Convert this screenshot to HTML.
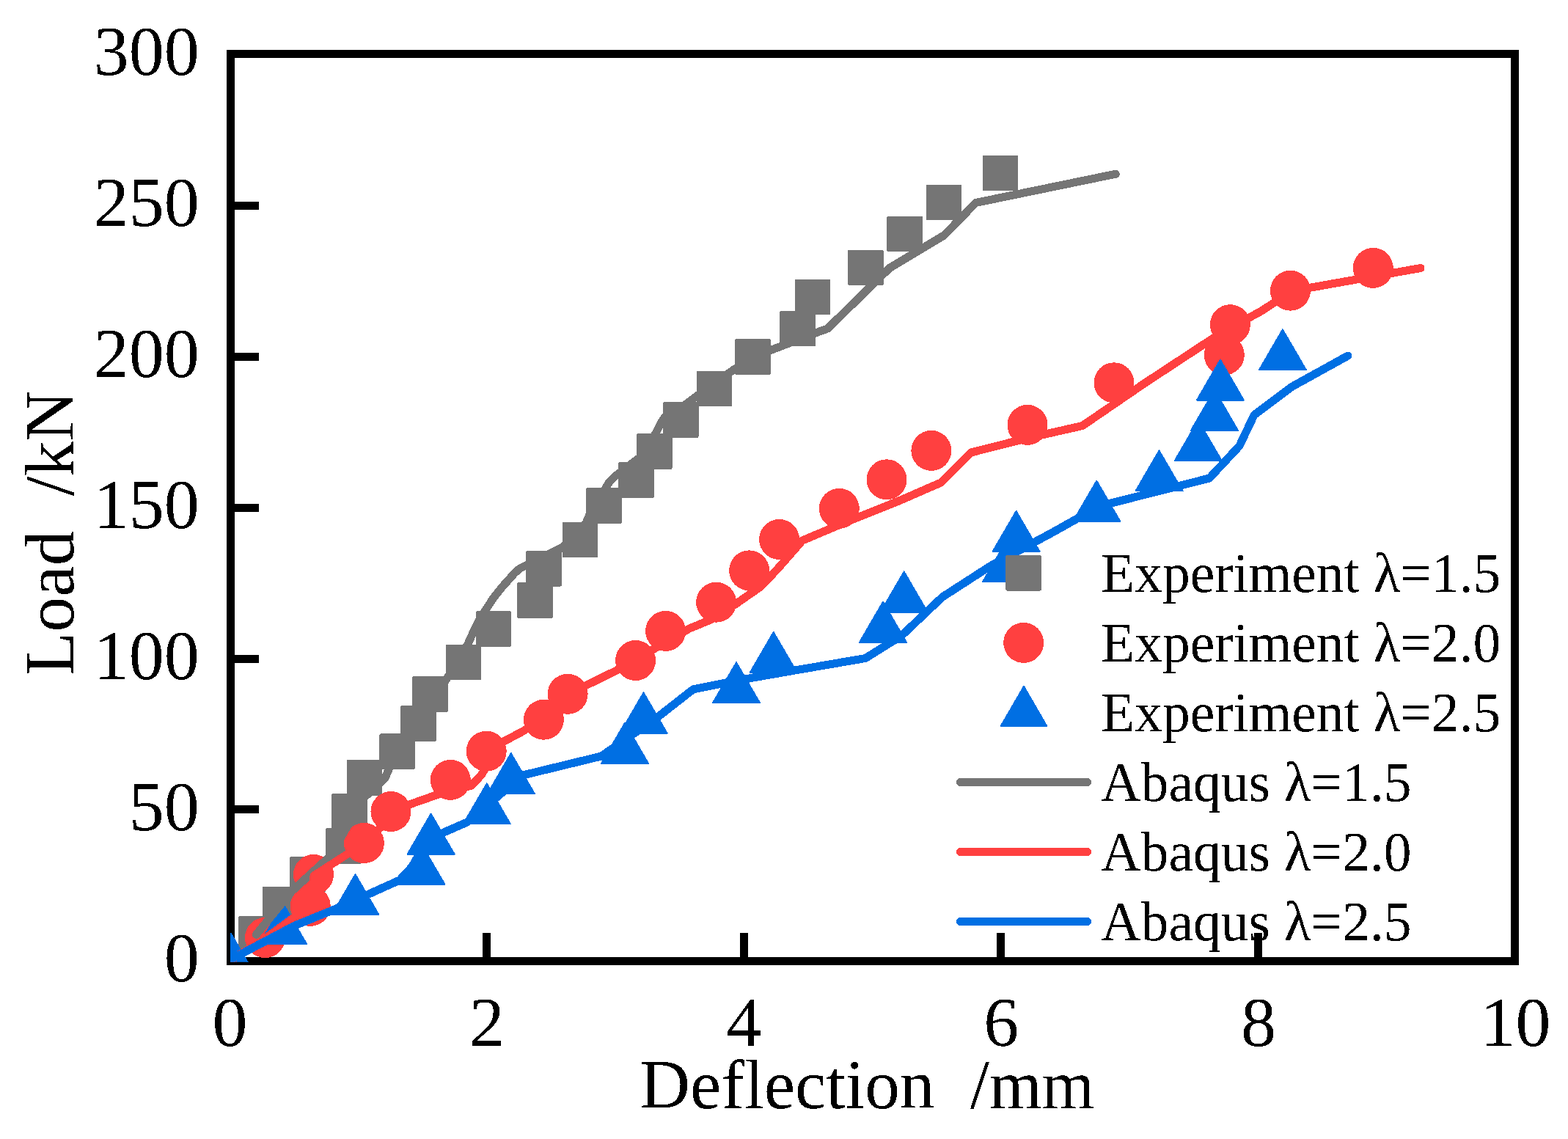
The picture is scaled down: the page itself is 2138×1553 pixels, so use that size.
<!DOCTYPE html><html><head><meta charset="utf-8"><title>Load-deflection curves</title><style>html,body{margin:0;padding:0;background:#fff;width:2138px;height:1553px;overflow:hidden}svg{display:block}text{font-family:"Liberation Serif","Times New Roman",serif;fill:#000}</style></head><body>
<svg width="2138" height="1553" viewBox="0 0 2138 1553" shape-rendering="crispEdges">
<rect width="2138" height="1553" fill="#fff"/>
<defs><clipPath id="pc"><rect x="314" y="73" width="1752" height="1238.7"/></clipPath><filter id="bin" filterUnits="userSpaceOnUse" x="0" y="0" width="2138" height="1553"><feComponentTransfer><feFuncA type="discrete" tableValues="0 1"/></feComponentTransfer></filter></defs>
<rect x="314.5" y="73.5" width="1751" height="1237" fill="none" stroke="#000" stroke-width="11"/>
<path d="M314.5 1103.9H353M314.5 898.1H353M314.5 692.2H353M314.5 486.3H353M314.5 280.5H353M663.5 1310.5V1272M1014.1 1310.5V1272M1364.8 1310.5V1272M1715.4 1310.5V1272" stroke="#000" stroke-width="11" fill="none"/>
<g filter="url(#bin)">
<text x="271.8" y="1337.5" font-size="96" text-anchor="end">0</text>
<text x="271.8" y="1131.6" font-size="96" text-anchor="end">50</text>
<text x="271.8" y="925.8" font-size="96" text-anchor="end">100</text>
<text x="271.8" y="719.9" font-size="96" text-anchor="end">150</text>
<text x="271.8" y="514.0" font-size="96" text-anchor="end">200</text>
<text x="271.8" y="308.2" font-size="96" text-anchor="end">250</text>
<text x="271.8" y="102.3" font-size="96" text-anchor="end">300</text>
<text x="313.4" y="1425.7" font-size="96" text-anchor="middle">0</text>
<text x="664.0" y="1425.7" font-size="96" text-anchor="middle">2</text>
<text x="1014.6" y="1425.7" font-size="96" text-anchor="middle">4</text>
<text x="1365.3" y="1425.7" font-size="96" text-anchor="middle">6</text>
<text x="1715.9" y="1425.7" font-size="96" text-anchor="middle">8</text>
<text x="2066.5" y="1425.7" font-size="96" text-anchor="middle">10</text>
<text x="872.3" y="1511" font-size="95.3">Deflection</text>
<text x="1323" y="1511" font-size="96" textLength="169.5" lengthAdjust="spacingAndGlyphs">/mm</text>
<text transform="translate(100.3 920.4) rotate(-90)" font-size="96">Load</text>
<text transform="translate(100.3 676.2) rotate(-90)" font-size="96">/kN</text>
</g>
<g clip-path="url(#pc)" shape-rendering="crispEdges">
<g><rect x="325.2" y="1249.4" width="48.4" height="48.4" rx="1.5" fill="#757575"/><rect x="358.2" y="1208.5" width="48.4" height="48.4" rx="1.5" fill="#757575"/><rect x="395.3" y="1168.3" width="48.4" height="48.4" rx="1.5" fill="#757575"/><rect x="444.1" y="1129.4" width="48.4" height="48.4" rx="1.5" fill="#757575"/><rect x="452.3" y="1082.3" width="48.4" height="48.4" rx="1.5" fill="#757575"/><rect x="472.5" y="1036.3" width="48.4" height="48.4" rx="1.5" fill="#757575"/><rect x="517.4" y="1000.4" width="48.4" height="48.4" rx="1.5" fill="#757575"/><rect x="546.3" y="962.3" width="48.4" height="48.4" rx="1.5" fill="#757575"/><rect x="562.4" y="922.3" width="48.4" height="48.4" rx="1.5" fill="#757575"/><rect x="607.6" y="878.5" width="48.4" height="48.4" rx="1.5" fill="#757575"/><rect x="648.7" y="833.3" width="48.4" height="48.4" rx="1.5" fill="#757575"/><rect x="705.3" y="794.3" width="48.4" height="48.4" rx="1.5" fill="#757575"/><rect x="717.3" y="751.2" width="48.4" height="48.4" rx="1.5" fill="#757575"/><rect x="766.5" y="711.6" width="48.4" height="48.4" rx="1.5" fill="#757575"/><rect x="799.4" y="665.2" width="48.4" height="48.4" rx="1.5" fill="#757575"/><rect x="843.3" y="630.4" width="48.4" height="48.4" rx="1.5" fill="#757575"/><rect x="868.2" y="591.3" width="48.4" height="48.4" rx="1.5" fill="#757575"/><rect x="904.1" y="548.3" width="48.4" height="48.4" rx="1.5" fill="#757575"/><rect x="949.5" y="505.6" width="48.4" height="48.4" rx="1.5" fill="#757575"/><rect x="1002.4" y="462.3" width="48.4" height="48.4" rx="1.5" fill="#757575"/><rect x="1063.4" y="423.8" width="48.4" height="48.4" rx="1.5" fill="#757575"/><rect x="1083.8" y="380.8" width="48.4" height="48.4" rx="1.5" fill="#757575"/><rect x="1156.2" y="340.6" width="48.4" height="48.4" rx="1.5" fill="#757575"/><rect x="1209.4" y="294.8" width="48.4" height="48.4" rx="1.5" fill="#757575"/><rect x="1262.8" y="251.6" width="48.4" height="48.4" rx="1.5" fill="#757575"/><rect x="1339.8" y="211.9" width="48.4" height="48.4" rx="1.5" fill="#757575"/></g>
<g><circle cx="361.5" cy="1278.5" r="27.5" fill="#FF4040"/><circle cx="423.2" cy="1235.4" r="27.5" fill="#FF4040"/><circle cx="427.5" cy="1192.4" r="27.5" fill="#FF4040"/><circle cx="496.4" cy="1149.5" r="27.5" fill="#FF4040"/><circle cx="533.0" cy="1106.5" r="27.5" fill="#FF4040"/><circle cx="614.3" cy="1063.4" r="27.5" fill="#FF4040"/><circle cx="663.2" cy="1024.2" r="27.5" fill="#FF4040"/><circle cx="741.4" cy="981.2" r="27.5" fill="#FF4040"/><circle cx="774.1" cy="946.3" r="27.5" fill="#FF4040"/><circle cx="866.6" cy="900.5" r="27.5" fill="#FF4040"/><circle cx="907.6" cy="860.4" r="27.5" fill="#FF4040"/><circle cx="976.6" cy="821.2" r="27.5" fill="#FF4040"/><circle cx="1021.6" cy="777.9" r="27.5" fill="#FF4040"/><circle cx="1062.6" cy="735.5" r="27.5" fill="#FF4040"/><circle cx="1144.3" cy="693.4" r="27.5" fill="#FF4040"/><circle cx="1209.0" cy="653.8" r="27.5" fill="#FF4040"/><circle cx="1269.9" cy="614.4" r="27.5" fill="#FF4040"/><circle cx="1401.0" cy="579.4" r="27.5" fill="#FF4040"/><circle cx="1519.0" cy="521.8" r="27.5" fill="#FF4040"/><circle cx="1669.3" cy="484.0" r="27.5" fill="#FF4040"/><circle cx="1677.4" cy="442.7" r="27.5" fill="#FF4040"/><circle cx="1759.5" cy="396.2" r="27.5" fill="#FF4040"/><circle cx="1872.3" cy="365.4" r="27.5" fill="#FF4040"/></g>
<g><polygon points="315.0,1273.0 347.0,1328.0 283.0,1328.0" fill="#006FE3" stroke="#006FE3" stroke-width="2" stroke-linejoin="round"/><polygon points="386.0,1232.0 418.0,1287.0 354.0,1287.0" fill="#006FE3" stroke="#006FE3" stroke-width="2" stroke-linejoin="round"/><polygon points="484.5,1192.2 516.5,1247.2 452.5,1247.2" fill="#006FE3" stroke="#006FE3" stroke-width="2" stroke-linejoin="round"/><polygon points="574.5,1150.9 606.5,1205.9 542.5,1205.9" fill="#006FE3" stroke="#006FE3" stroke-width="2" stroke-linejoin="round"/><polygon points="587.6,1109.6 619.6,1164.6 555.6,1164.6" fill="#006FE3" stroke="#006FE3" stroke-width="2" stroke-linejoin="round"/><polygon points="663.8,1068.3 695.8,1123.3 631.8,1123.3" fill="#006FE3" stroke="#006FE3" stroke-width="2" stroke-linejoin="round"/><polygon points="696.8,1027.1 728.8,1082.1 664.8,1082.1" fill="#006FE3" stroke="#006FE3" stroke-width="2" stroke-linejoin="round"/><polygon points="852.0,985.8 884.0,1040.8 820.0,1040.8" fill="#006FE3" stroke="#006FE3" stroke-width="2" stroke-linejoin="round"/><polygon points="877.5,944.5 909.5,999.5 845.5,999.5" fill="#006FE3" stroke="#006FE3" stroke-width="2" stroke-linejoin="round"/><polygon points="1004.0,903.3 1036.0,958.3 972.0,958.3" fill="#006FE3" stroke="#006FE3" stroke-width="2" stroke-linejoin="round"/><polygon points="1054.7,862.0 1086.7,917.0 1022.7,917.0" fill="#006FE3" stroke="#006FE3" stroke-width="2" stroke-linejoin="round"/><polygon points="1204.0,820.7 1236.0,875.7 1172.0,875.7" fill="#006FE3" stroke="#006FE3" stroke-width="2" stroke-linejoin="round"/><polygon points="1232.7,779.5 1264.7,834.5 1200.7,834.5" fill="#006FE3" stroke="#006FE3" stroke-width="2" stroke-linejoin="round"/><polygon points="1372.0,738.2 1404.0,793.2 1340.0,793.2" fill="#006FE3" stroke="#006FE3" stroke-width="2" stroke-linejoin="round"/><polygon points="1385.6,696.9 1417.6,751.9 1353.6,751.9" fill="#006FE3" stroke="#006FE3" stroke-width="2" stroke-linejoin="round"/><polygon points="1495.3,655.6 1527.3,710.6 1463.3,710.6" fill="#006FE3" stroke="#006FE3" stroke-width="2" stroke-linejoin="round"/><polygon points="1580.5,614.4 1612.5,669.4 1548.5,669.4" fill="#006FE3" stroke="#006FE3" stroke-width="2" stroke-linejoin="round"/><polygon points="1633.8,573.1 1665.8,628.1 1601.8,628.1" fill="#006FE3" stroke="#006FE3" stroke-width="2" stroke-linejoin="round"/><polygon points="1656.0,531.8 1688.0,586.8 1624.0,586.8" fill="#006FE3" stroke="#006FE3" stroke-width="2" stroke-linejoin="round"/><polygon points="1663.9,490.6 1695.9,545.6 1631.9,545.6" fill="#006FE3" stroke="#006FE3" stroke-width="2" stroke-linejoin="round"/><polygon points="1748.9,449.3 1780.9,504.3 1716.9,504.3" fill="#006FE3" stroke="#006FE3" stroke-width="2" stroke-linejoin="round"/></g>
<polyline points="349.3,1274.3 397.7,1215.3 450.0,1167.6 496.0,1088.0 525.0,1061.0 531.0,1047.0 630.0,893.0 638.0,878.0 643.0,867.0 652.0,848.0 662.0,832.0 673.0,815.0 685.0,800.0 694.0,790.0 702.0,781.0 709.0,775.0 720.0,769.5 748.0,755.6 768.0,745.8 799.0,713.0 804.0,701.5 824.4,668.0 831.0,657.0 838.0,650.0 846.0,644.0 859.0,634.0 872.0,624.0 894.0,591.0 901.0,577.0 907.0,568.0 933.0,553.0 953.0,538.0 990.0,511.5 1002.0,503.0 1051.0,477.5 1112.0,454.0 1128.5,448.0 1213.0,365.4 1287.5,320.7 1330.4,276.5 1521.3,237.2" fill="none" stroke="#757575" stroke-width="11" stroke-linejoin="round" stroke-linecap="round"/>
<polyline points="313.0,1310.0 357.0,1283.0 398.0,1253.0 425.0,1236.0 428.0,1194.0 476.0,1163.0 558.0,1097.0 595.0,1084.0 643.0,1071.0 656.0,1057.0 685.0,1012.0 715.0,996.0 796.0,936.0 841.0,914.0 940.0,857.0 969.0,845.0 1004.0,823.0 1037.0,800.0 1060.0,776.0 1094.0,737.0 1146.0,715.0 1228.0,682.0 1283.0,658.0 1324.0,617.0 1400.0,597.7 1476.0,580.5 1560.0,523.0 1665.0,454.0 1720.0,424.0 1762.0,396.6 1937.0,365.5" fill="none" stroke="#FF4040" stroke-width="11" stroke-linejoin="round" stroke-linecap="round"/>
<polyline points="313.0,1309.0 402.0,1262.0 456.0,1240.0 503.0,1219.0 545.0,1200.0 605.0,1135.0 637.0,1121.0 713.0,1057.0 820.0,1031.0 899.0,976.0 945.0,940.0 1004.0,928.0 1084.0,914.0 1180.0,897.5 1229.0,867.0 1285.0,814.0 1350.0,772.0 1440.0,723.3 1499.0,690.0 1562.0,674.2 1649.0,652.0 1690.0,608.0 1710.0,566.0 1762.0,527.0 1838.0,485.0" fill="none" stroke="#006FE3" stroke-width="11" stroke-linejoin="round" stroke-linecap="round"/>
</g>
<rect x="1371.4" y="757.1" width="48.4" height="48.4" rx="1.5" fill="#757575"/>
<circle cx="1395.7" cy="876.4" r="27.5" fill="#FF4040"/>
<polygon points="1396.0,935.9 1427.3,989.9 1364.7,989.9" fill="#006FE3" stroke="#006FE3" stroke-width="2" stroke-linejoin="round"/>
<line x1="1309.5" y1="1066.4" x2="1482.5" y2="1066.4" stroke="#757575" stroke-width="11" stroke-linecap="round"/>
<line x1="1309.5" y1="1161.5" x2="1482.5" y2="1161.5" stroke="#FF4040" stroke-width="11" stroke-linecap="round"/>
<line x1="1309.5" y1="1256.6" x2="1482.5" y2="1256.6" stroke="#006FE3" stroke-width="11" stroke-linecap="round"/>
<g filter="url(#bin)">
<text x="1501" y="806.9" font-size="75.6">Experiment λ=1.5</text>
<text x="1501" y="902.0" font-size="75.6">Experiment λ=2.0</text>
<text x="1501" y="997.1" font-size="75.6">Experiment λ=2.5</text>
<text x="1501" y="1092.2" font-size="75.6">Abaqus λ=1.5</text>
<text x="1501" y="1187.3" font-size="75.6">Abaqus λ=2.0</text>
<text x="1501" y="1282.4" font-size="75.6">Abaqus λ=2.5</text>
</g>
</svg></body></html>
